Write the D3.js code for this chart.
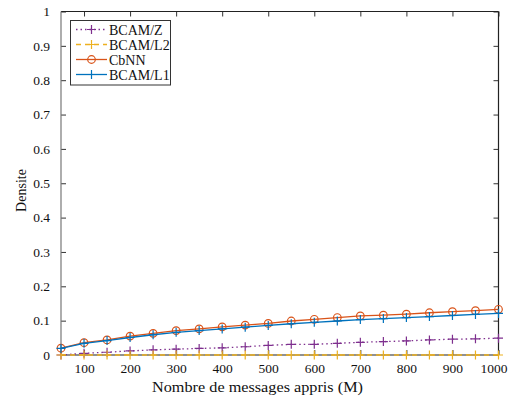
<!DOCTYPE html>
<html><head><meta charset="utf-8">
<script src="https://cdn.jsdelivr.net/npm/d3@7"></script>
<style>body{margin:0;background:#fff}svg{display:block}text{font-family:"Liberation Serif","Times New Roman",serif}</style>
</head><body><svg id="c" width="510" height="401"></svg>
<script>
const xValues = [50,100,150,200,250,300,350,400,450,500,550,600,650,700,750,800,850,900,950,1000];
const bcamZ  = [0.000,0.005,0.008,0.012,0.015,0.017,0.019,0.021,0.024,0.028,0.031,0.031,0.034,0.037,0.039,0.041,0.044,0.046,0.047,0.049];
const bcamL2 = [0,0,0,0,0,0,0,0,0,0,0,0,0,0,0,0,0,0,0,0];
const cbnn   = [0.020,0.036,0.044,0.055,0.063,0.071,0.076,0.082,0.087,0.092,0.099,0.104,0.109,0.114,0.116,0.119,0.123,0.126,0.129,0.133];
const bcamL1 = [0.019,0.034,0.042,0.051,0.059,0.066,0.071,0.076,0.081,0.086,0.091,0.095,0.099,0.103,0.106,0.109,0.112,0.115,0.118,0.121];
const xTicks = [100,200,300,400,500,600,700,800,900,1000];
const yTicks = [0,0.1,0.2,0.3,0.4,0.5,0.6,0.7,0.8,0.9,1];
const seriesNames = ["BCAM/Z","BCAM/L2","CbNN","BCAM/L1"];
const seriesColors = ["#7E2F8E","#EDB120","#D95319","#0072BD"];
const seriesDash = ["1.5,3","5,4",null,null];
const seriesMarker = ["plus","plus","circle","plus"];
const seriesData = [bcamZ,bcamL2,cbnn,bcamL1];

const svg = d3.select("#c");
const L=61, R=498.5, T=11.5, B=355;
const x = d3.scaleLinear().domain([50,1000]).range([L,R]);
const y = d3.scaleLinear().domain([0,1]).range([B,T]);

const fs = 14, tfs = 13.5;
const gx = svg.append("g").attr("transform",`translate(0,${B})`)
  .call(d3.axisBottom(x).tickValues(xTicks).tickSize(-5).tickPadding(0).tickFormat(d3.format("d")));
gx.selectAll("text").attr("dy",null).attr("y",18);
gx.selectAll(".tick").filter(d=>d===1000).select("text").attr("dx",-5);
const gxt = svg.append("g").attr("transform",`translate(0,${T})`)
  .call(d3.axisTop(x).tickValues(xTicks).tickSize(-5).tickFormat(""));
const gy = svg.append("g").attr("transform",`translate(${L},0)`)
  .call(d3.axisLeft(y).tickValues(yTicks).tickSize(-5).tickPadding(11).tickFormat(d=>d===0?"0":d===1?"1":d3.format(".1f")(d)));
const gyr = svg.append("g").attr("transform",`translate(${R},0)`)
  .call(d3.axisRight(y).tickValues(yTicks).tickSize(-5).tickFormat(""));
[gx,gxt,gy,gyr].forEach(g=>{
  g.select(".domain").remove();
  g.selectAll("line").attr("stroke","#333").attr("stroke-width",1);
  g.selectAll("text").attr("font-size",tfs).attr("fill","#111").attr("font-family","Liberation Serif");
});
// frame
svg.append("line").attr("x1",L).attr("x2",R).attr("y1",T).attr("y2",T).attr("stroke","#222").attr("stroke-width",1.2);
svg.append("line").attr("x1",R).attr("x2",R).attr("y1",T).attr("y2",B).attr("stroke","#222").attr("stroke-width",1.2);
svg.append("line").attr("x1",L).attr("x2",R).attr("y1",B).attr("y2",B).attr("stroke","#222").attr("stroke-width",1.2);
svg.append("line").attr("x1",L).attr("x2",L).attr("y1",T).attr("y2",B).attr("stroke","#777").attr("stroke-width",1.2);

// axis labels
svg.append("text").attr("x",152).attr("y",392).attr("font-size",fs).attr("fill","#111")
  .attr("textLength",211).attr("lengthAdjust","spacingAndGlyphs").text("Nombre de messages appris (M)");
svg.append("text").attr("transform","translate(26,190.5) rotate(-90)").attr("text-anchor","middle").attr("font-size",fs).attr("fill","#111").text("Densite");

function drawMarker(g, type, cx, cy, color){
  if(type==="plus"){
    g.append("path").attr("d",`M${cx-4.5},${cy}H${cx+4.5}M${cx},${cy-4.5}V${cy+4.5}`).attr("stroke",color).attr("stroke-width",1.2).attr("fill","none");
  } else {
    g.append("circle").attr("cx",cx).attr("cy",cy).attr("r",3.8).attr("stroke",color).attr("stroke-width",1.2).attr("fill","none");
  }
}

const line = d3.line().x(d=>x(d[0])).y(d=>y(d[1]));
seriesData.forEach((vals,i)=>{
  const pts = xValues.map((v,j)=>[v,vals[j]]);
  const g = svg.append("g");
  g.append("path").datum(pts).attr("d",line).attr("fill","none")
    .attr("stroke",seriesColors[i]).attr("stroke-width",1.3)
    .attr("stroke-dasharray",seriesDash[i]);
  pts.forEach(p=>drawMarker(g,seriesMarker[i],x(p[0]),y(p[1]),seriesColors[i]));
});

// legend
const lg = svg.append("g");
lg.append("rect").attr("x",70.5).attr("y",20.5).attr("width",100).attr("height",64.5).attr("fill","#fff").attr("stroke","#333").attr("stroke-width",1);
seriesNames.forEach((n,i)=>{
  const yy = 29.5 + i*15;
  lg.append("line").attr("x1",76).attr("x2",107).attr("y1",yy).attr("y2",yy)
    .attr("stroke",seriesColors[i]).attr("stroke-width",1.3).attr("stroke-dasharray",seriesDash[i]);
  drawMarker(lg,seriesMarker[i],91.5,yy,seriesColors[i]);
  lg.append("text").attr("x",109).attr("y",yy+5).attr("font-size",fs).attr("fill","#111").text(n);
});
</script></body></html>
